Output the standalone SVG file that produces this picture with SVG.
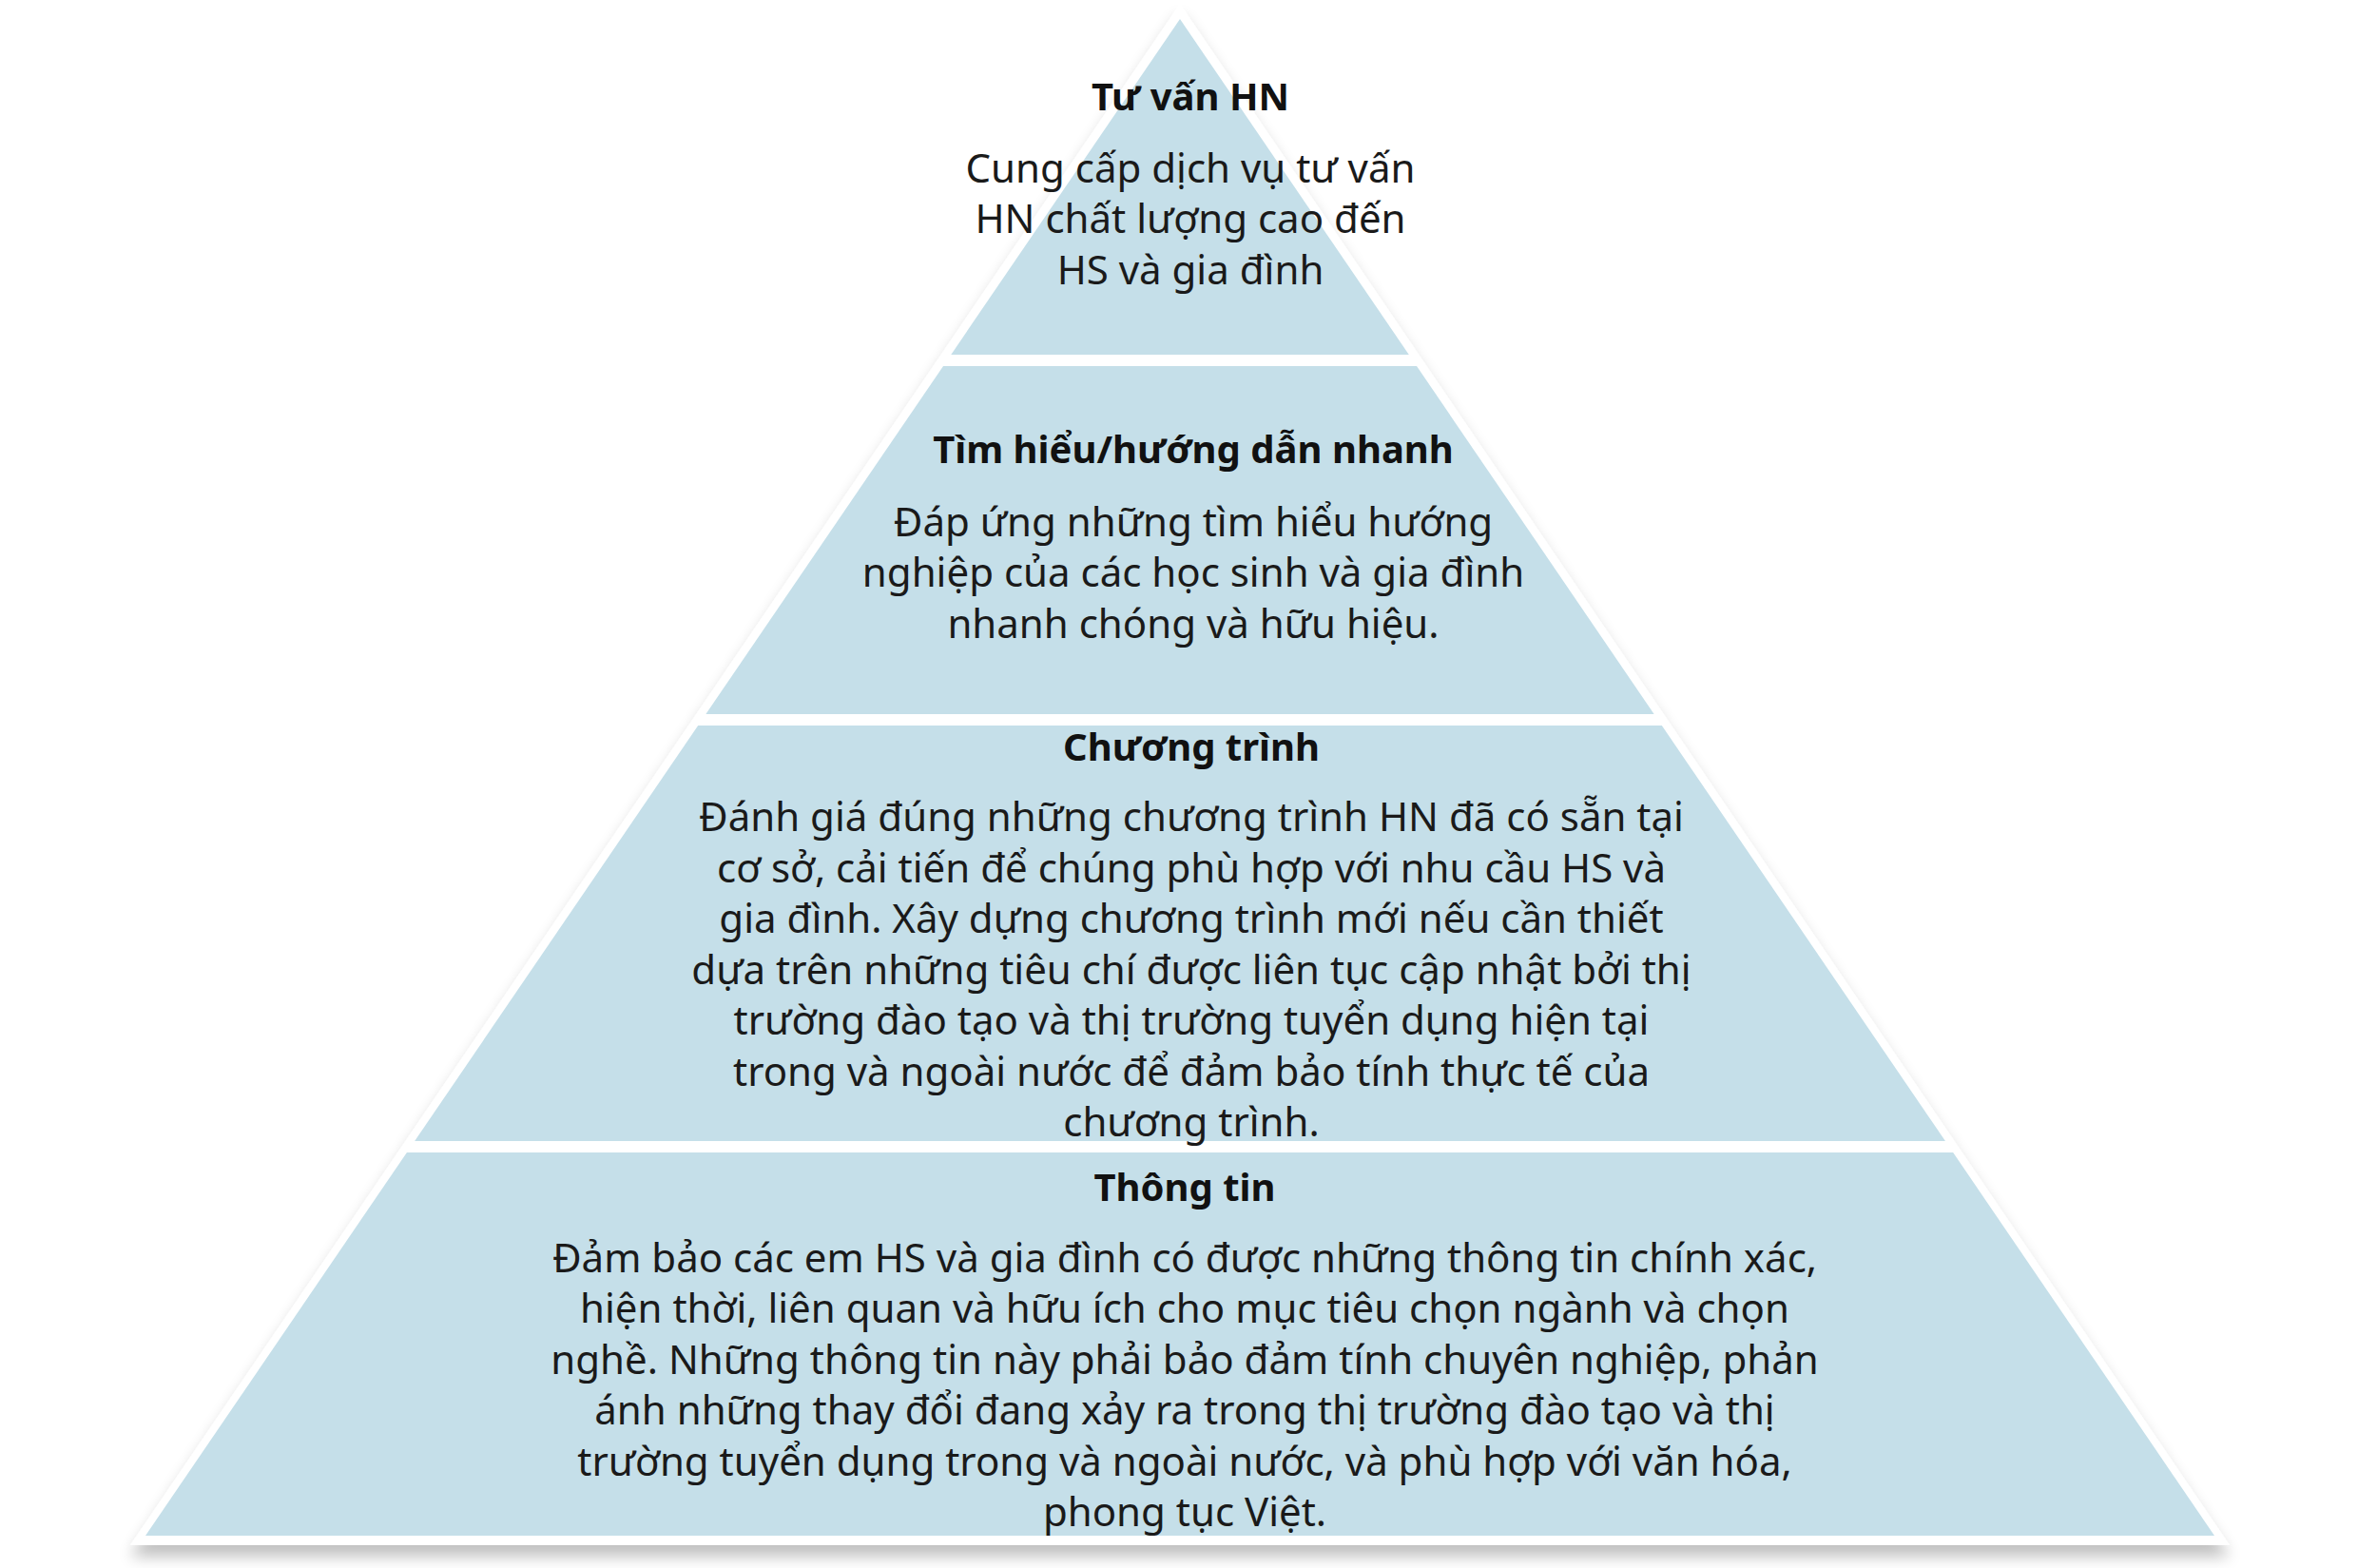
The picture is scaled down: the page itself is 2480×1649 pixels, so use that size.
<svg xmlns="http://www.w3.org/2000/svg" width="2480" height="1649" viewBox="0 0 2480 1649">
<defs>
<style>
.t{font-family:"Noto Sans","Open Sans",sans-serif;font-size:40px;font-weight:bold;fill:#111;text-anchor:middle}
.b{font-family:"Noto Sans","Open Sans",sans-serif;font-size:42px;fill:#1a1a1a;text-anchor:middle}
.band{fill:#c5dfe9}
</style>
<filter id="sh" x="-10%" y="-10%" width="120%" height="130%"><feGaussianBlur in="SourceAlpha" stdDeviation="8"/><feOffset dy="12"/><feComponentTransfer><feFuncA type="linear" slope="0.25"/></feComponentTransfer><feMerge><feMergeNode/><feMergeNode in="SourceGraphic"/></feMerge></filter>
<clipPath id="tri"><polygon points="1241,20 2329,1615 153,1615"/></clipPath>
</defs>
<rect width="2480" height="1649" fill="#fff"/>
<polygon points="1241,4 2345,1625 137,1625" fill="#fff" filter="url(#sh)"/>
<g clip-path="url(#tri)">
<g id="n1"><rect class="band" x="0" y="0" width="2480" height="373"/></g>
<g id="n2"><rect class="band" x="0" y="385" width="2480" height="366"/></g>
<g id="n3"><rect class="band" x="0" y="763" width="2480" height="437"/></g>
<g id="n4"><rect class="band" x="0" y="1212" width="2480" height="403"/></g>
</g>
<g id="connectors"/>
<g id="text1"><text class="t" x="1252" y="116">Tư vấn HN</text>
<text class="b" x="1252" y="192">Cung cấp dịch vụ tư vấn</text>
<text class="b" x="1252" y="245">HN chất lượng cao đến</text>
<text class="b" x="1252" y="299">HS và gia đình</text></g>
<g id="text2"><text class="t" x="1255" y="487">Tìm hiểu/hướng dẫn nhanh</text>
<text class="b" x="1255" y="564">Đáp ứng những tìm hiểu hướng</text>
<text class="b" x="1255" y="617">nghiệp của các học sinh và gia đình</text>
<text class="b" x="1255" y="671">nhanh chóng và hữu hiệu.</text></g>
<g id="text3"><text class="t" x="1253" y="800">Chương trình</text>
<text class="b" x="1253" y="874">Đánh giá đúng những chương trình HN đã có sẵn tại</text>
<text class="b" x="1253" y="928">cơ sở, cải tiến để chúng phù hợp với nhu cầu HS và</text>
<text class="b" x="1253" y="981">gia đình. Xây dựng chương trình mới nếu cần thiết</text>
<text class="b" x="1253" y="1035">dựa trên những tiêu chí được liên tục cập nhật bởi thị</text>
<text class="b" x="1253" y="1088">trường đào tạo và thị trường tuyển dụng hiện tại</text>
<text class="b" x="1253" y="1142">trong và ngoài nước để đảm bảo tính thực tế của</text>
<text class="b" x="1253" y="1195">chương trình.</text></g>
<g id="text4"><text class="t" x="1246" y="1263">Thông tin</text>
<text class="b" x="1246" y="1338">Đảm bảo các em HS và gia đình có được những thông tin chính xác,</text>
<text class="b" x="1246" y="1391">hiện thời, liên quan và hữu ích cho mục tiêu chọn ngành và chọn</text>
<text class="b" x="1246" y="1445">nghề. Những thông tin này phải bảo đảm tính chuyên nghiệp, phản</text>
<text class="b" x="1246" y="1498">ánh những thay đổi đang xảy ra trong thị trường đào tạo và thị</text>
<text class="b" x="1246" y="1552">trường tuyển dụng trong và ngoài nước, và phù hợp với văn hóa,</text>
<text class="b" x="1246" y="1605">phong tục Việt.</text></g>
</svg>
